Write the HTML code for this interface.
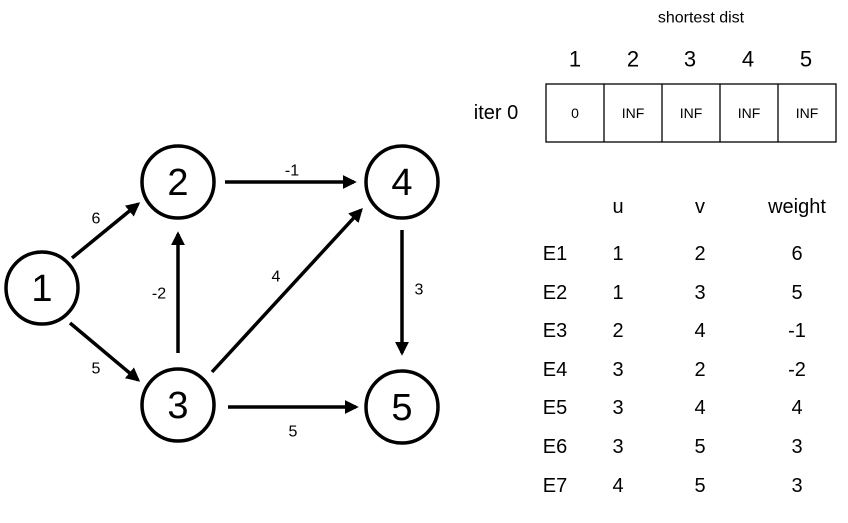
<!DOCTYPE html>
<html><head><meta charset="utf-8"><style>
html,body{margin:0;padding:0;background:#fff;}
svg{display:block;}
text{font-family:"Liberation Sans","DejaVu Sans",sans-serif;fill:#000;}
</style></head><body>
<svg width="848" height="523" viewBox="0 0 848 523" xmlns="http://www.w3.org/2000/svg">
<defs>
<marker id="a" markerWidth="4" markerHeight="4" refX="3.2" refY="2" orient="auto" markerUnits="strokeWidth">
<path d="M0,0 L4,2 L0,4 z" fill="#000"/>
</marker>
</defs>
<g stroke="#000" stroke-width="3.5" fill="none">
<circle cx="42" cy="288" r="36"/>
<circle cx="178" cy="182" r="36"/>
<circle cx="402" cy="182" r="36"/>
<circle cx="178" cy="405" r="36"/>
<circle cx="402" cy="407" r="36"/>
<g marker-end="url(#a)">
<line x1="72" y1="258" x2="138" y2="204"/>
<line x1="70" y1="323" x2="138" y2="380"/>
<line x1="225" y1="182" x2="354" y2="182"/>
<line x1="178" y1="353" x2="178" y2="234"/>
<line x1="212" y1="372" x2="361" y2="210"/>
<line x1="228" y1="407" x2="356" y2="407"/>
<line x1="402" y1="230" x2="402" y2="353"/>
</g>
</g>
<g font-size="38" text-anchor="middle" dominant-baseline="central">
<text x="42" y="289">1</text><text x="178" y="183">2</text><text x="402" y="183">4</text>
<text x="178" y="406">3</text><text x="402" y="408">5</text>
</g>
<g font-size="16" text-anchor="middle" dominant-baseline="central">
<text x="96" y="219">6</text><text x="96" y="369">5</text><text x="292" y="171">-1</text>
<text x="159" y="294">-2</text><text x="276" y="277">4</text><text x="419" y="290">3</text>
<text x="293" y="432">5</text>
</g>
<text x="701" y="18" font-size="16" text-anchor="middle" dominant-baseline="central">shortest dist</text>
<g font-size="22" text-anchor="middle" dominant-baseline="central">
<text x="575" y="59">1</text><text x="633" y="59">2</text><text x="690" y="59">3</text><text x="748" y="59">4</text><text x="806" y="59">5</text>
</g>
<text x="496" y="113" font-size="20" text-anchor="middle" dominant-baseline="central">iter 0</text>
<g stroke="#000" stroke-width="1.3" fill="none">
<rect x="546" y="84" width="290" height="58"/>
<line x1="604" y1="84" x2="604" y2="142"/><line x1="662" y1="84" x2="662" y2="142"/>
<line x1="720" y1="84" x2="720" y2="142"/><line x1="778" y1="84" x2="778" y2="142"/>
</g>
<g font-size="14" text-anchor="middle" dominant-baseline="central">
<text x="575" y="113">0</text><text x="633" y="113">INF</text><text x="691" y="113">INF</text><text x="749" y="113">INF</text><text x="807" y="113">INF</text>
</g>
<g font-size="20" text-anchor="middle" dominant-baseline="central">
<text x="618" y="207">u</text><text x="700" y="207">v</text><text x="797" y="207">weight</text>
<text x="555" y="254">E1</text><text x="618" y="254">1</text><text x="700" y="254">2</text><text x="797" y="254">6</text>
<text x="555" y="293">E2</text><text x="618" y="293">1</text><text x="700" y="293">3</text><text x="797" y="293">5</text>
<text x="555" y="331">E3</text><text x="618" y="331">2</text><text x="700" y="331">4</text><text x="797" y="331">-1</text>
<text x="555" y="370">E4</text><text x="618" y="370">3</text><text x="700" y="370">2</text><text x="797" y="370">-2</text>
<text x="555" y="408">E5</text><text x="618" y="408">3</text><text x="700" y="408">4</text><text x="797" y="408">4</text>
<text x="555" y="447">E6</text><text x="618" y="447">3</text><text x="700" y="447">5</text><text x="797" y="447">3</text>
<text x="555" y="486">E7</text><text x="618" y="486">4</text><text x="700" y="486">5</text><text x="797" y="486">3</text>
</g>
</svg>
</body></html>
